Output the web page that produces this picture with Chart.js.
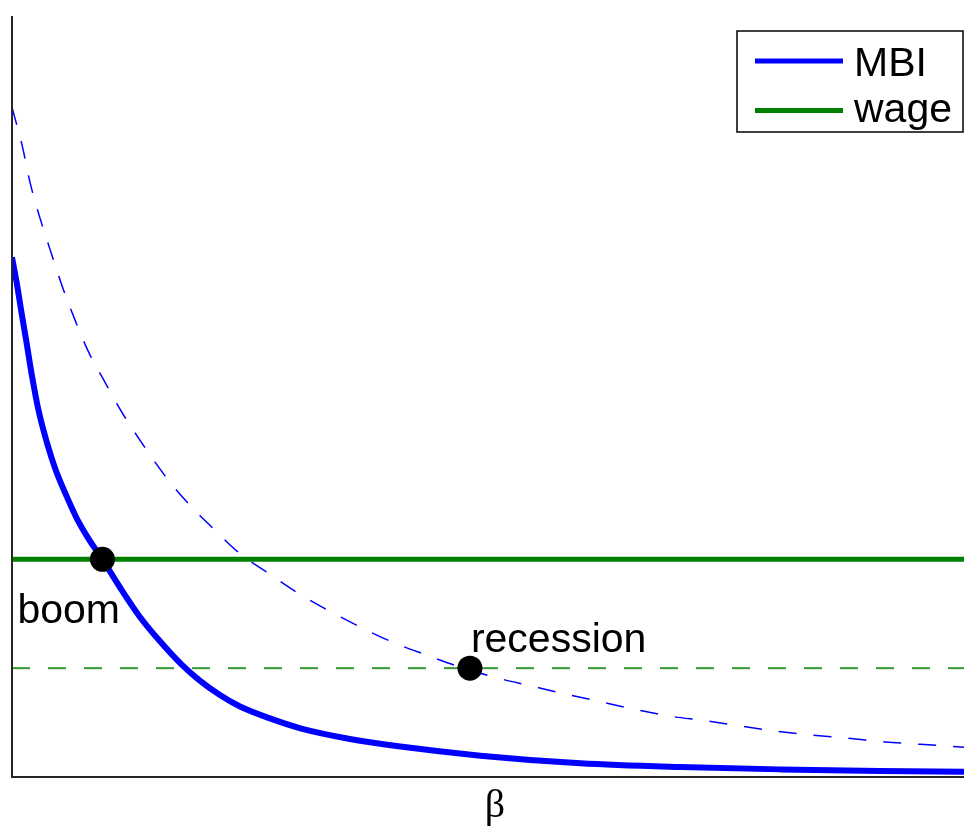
<!DOCTYPE html>
<html>
<head>
<meta charset="utf-8">
<script src="https://cdn.jsdelivr.net/npm/chart.js@4/dist/chart.umd.min.js"></script>
<style>
  html, body { margin: 0; padding: 0; background: #fff; overflow: hidden; }
  #wrap { position: relative; width: 964px; height: 826px; }
</style>
</head>
<body>
<div id="wrap"><canvas id="c" width="964" height="826"></canvas></div>
<script>
// ---- data (β on x, value on y, both on 0..1 scales) ----
const mbiBoomX = [0, 0.005, 0.0095, 0.015, 0.021, 0.028, 0.037, 0.046, 0.057, 0.068, 0.080, 0.095, 0.113, 0.134, 0.155, 0.178, 0.197, 0.218, 0.239, 0.271, 0.303, 0.355, 0.408, 0.492, 0.597, 0.702, 0.807, 0.912, 1.0];
const mbiBoomY = [0.683, 0.649, 0.614, 0.573, 0.527, 0.481, 0.438, 0.403, 0.370, 0.340, 0.314, 0.286, 0.250, 0.211, 0.179, 0.148, 0.127, 0.108, 0.093, 0.077, 0.064, 0.050, 0.040, 0.028, 0.018, 0.013, 0.010, 0.008, 0.007];

const mbiRecX = [0, 0.011, 0.019, 0.029, 0.040, 0.053, 0.066, 0.081, 0.098, 0.117, 0.138, 0.160, 0.184, 0.211, 0.239, 0.269, 0.300, 0.332, 0.366, 0.400, 0.436, 0.467, 0.507, 0.544, 0.581, 0.618, 0.654, 0.691, 0.728, 0.765, 0.804, 0.840, 0.877, 0.917, 0.954, 1.0];
const mbiRecY = [0.880, 0.828, 0.781, 0.736, 0.693, 0.644, 0.601, 0.557, 0.518, 0.476, 0.436, 0.397, 0.361, 0.327, 0.294, 0.268, 0.242, 0.219, 0.197, 0.177, 0.160, 0.146, 0.131, 0.120, 0.109, 0.099, 0.089, 0.080, 0.074, 0.067, 0.060, 0.055, 0.051, 0.046, 0.043, 0.039];

const wageBoom = 0.286;
const wageRecession = 0.143;

const eqLabels = ['boom', 'recession'];
const eqX = [0.095, 0.481];
const eqY = [0.286, 0.143];

const legendLabels = ['MBI', 'wage'];
const axisLabel = 'β';

// ---- build datasets ----
const zip = (xs, ys) => xs.map((x, i) => ({ x: x, y: ys[i] }));

const datasets = [
  {
    label: 'equilibria',
    data: zip(eqX, eqY),
    showLine: false,
    pointRadius: 12.5,
    pointBackgroundColor: '#000',
    pointBorderColor: '#000',
    pointBorderWidth: 0,
    order: 0
  },
  {
    label: legendLabels[0],
    data: zip(mbiBoomX, mbiBoomY),
    borderColor: '#0000ff',
    borderWidth: 6,
    pointRadius: 0,
    cubicInterpolationMode: 'monotone',
    order: 2
  },
  {
    label: legendLabels[1],
    data: [{ x: 0, y: wageBoom }, { x: 1, y: wageBoom }],
    borderColor: '#008000',
    borderWidth: 5,
    pointRadius: 0,
    order: 1
  },
  {
    label: 'MBI (recession)',
    data: zip(mbiRecX, mbiRecY),
    borderColor: '#0000ff',
    borderWidth: 1.5,
    borderDash: [18, 17],
    pointRadius: 0,
    cubicInterpolationMode: 'monotone',
    order: 4
  },
  {
    label: 'wage (recession)',
    data: [{ x: 0, y: wageRecession }, { x: 1, y: wageRecession }],
    borderColor: '#339933',
    borderWidth: 2,
    borderDash: [18, 18],
    pointRadius: 0,
    order: 3
  }
];

const decor = {
  id: 'decor',
  afterDraw(chart) {
    const ctx = chart.ctx;
    const a = chart.chartArea;
    const xs = chart.scales.x, ys = chart.scales.y;
    ctx.save();
    // axes
    ctx.strokeStyle = '#262626';
    ctx.lineWidth = 2;
    ctx.setLineDash([]);
    ctx.beginPath();
    ctx.moveTo(a.left, a.top);
    ctx.lineTo(a.left, a.bottom);
    ctx.lineTo(a.right, a.bottom);
    ctx.stroke();

    // annotations
    ctx.fillStyle = '#000';
    ctx.font = '41px "Liberation Sans", Arial, sans-serif';
    ctx.textAlign = 'left';
    ctx.textBaseline = 'alphabetic';
    ctx.fillText(eqLabels[0], xs.getPixelForValue(eqX[0]) - 85, ys.getPixelForValue(eqY[0]) + 64);
    ctx.fillText(eqLabels[1], xs.getPixelForValue(eqX[1]) + 1, ys.getPixelForValue(eqY[1]) - 16);

    // x axis label
    ctx.font = '40px "Liberation Serif", "Times New Roman", serif';
    ctx.textAlign = 'center';
    ctx.fillText(axisLabel, 495, 817);

    // legend
    const L = 737, T = 31, W = 226, H = 101;
    ctx.fillStyle = '#fff';
    ctx.fillRect(L, T, W, H);
    ctx.strokeStyle = '#000';
    ctx.lineWidth = 1.5;
    ctx.strokeRect(L, T, W, H);
    const rows = [
      { y: 61, color: '#0000ff', text: legendLabels[0], base: 76 },
      { y: 110.5, color: '#008000', text: legendLabels[1], base: 122 }
    ];
    ctx.font = '41px "Liberation Sans", Arial, sans-serif';
    ctx.textAlign = 'left';
    rows.forEach(r => {
      ctx.strokeStyle = r.color;
      ctx.lineWidth = 5;
      ctx.beginPath();
      ctx.moveTo(755, r.y);
      ctx.lineTo(843, r.y);
      ctx.stroke();
      ctx.fillStyle = '#000';
      ctx.fillText(r.text, 854, r.base);
    });
    ctx.restore();
  }
};

new Chart(document.getElementById('c'), {
  type: 'line',
  data: { datasets: datasets },
  options: {
    responsive: false,
    devicePixelRatio: 1,
    animation: false,
    layout: { autoPadding: false, padding: { left: 12, right: 0, top: 16, bottom: 49 } },
    scales: {
      x: { type: 'linear', min: 0, max: 1, display: false },
      y: { type: 'linear', min: 0, max: 1, display: false }
    },
    plugins: {
      legend: { display: false },
      tooltip: { enabled: false }
    }
  },
  plugins: [decor]
});
</script>
</body>
</html>
